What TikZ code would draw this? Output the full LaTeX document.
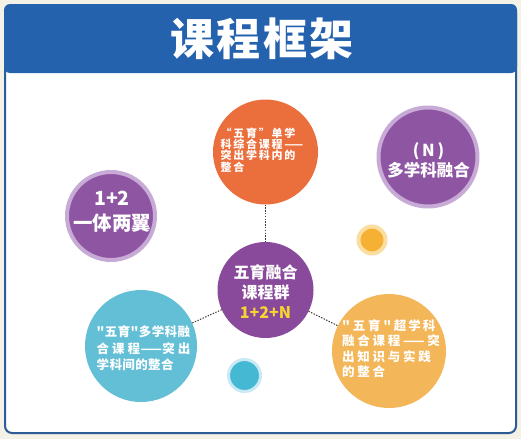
\documentclass[tikz,border=0pt]{standalone}
\usepackage{fontspec}
\newfontfamily\cjk{Noto Sans CJK SC}
\definecolor{bgbeige}{HTML}{F4F1E6}
\definecolor{headblue}{HTML}{2562AE}
\definecolor{framecol}{HTML}{2C5B96}
\definecolor{orangetop}{HTML}{EA6F3C}
\definecolor{hubpurple}{HTML}{8A4A9B}
\definecolor{sidepurple}{HTML}{8E55A2}
\definecolor{ringpurple}{HTML}{C8AAD6}
\definecolor{tealc}{HTML}{62BFD6}
\definecolor{orangebr}{HTML}{F3B75A}
\definecolor{smallorange}{HTML}{F6B033}
\definecolor{haloorange}{HTML}{FBDDA0}
\definecolor{smallteal}{HTML}{45B8D3}
\definecolor{haloteal}{HTML}{C9EAF4}
\definecolor{yellowtext}{HTML}{F7D431}
\definecolor{connc}{HTML}{3A3A3A}
\newcommand\fz[3]{\fontsize{#1}{#2}\selectfont\addfontfeature{LetterSpace=#3}}
\begin{document}
\begin{tikzpicture}[x=1pt,y=-1pt,
  ball/.style={circle, inner sep=0pt, outer sep=0pt, minimum size=#1},
  conn/.style={draw=connc, line width=1pt, dash pattern=on 1.4pt off 1.4pt},
  lbl/.style={text=white, inner sep=0pt, align=left}]
\useasboundingbox (0,0) rectangle (521,439);
\fill[bgbeige] (0,0) rectangle (521,439);
\draw[framecol, line width=2pt, fill=white, rounded corners=7pt] (5,6) rectangle (516,433);
\fill[headblue, rounded corners=6pt] (4,4) rectangle (517,73);
\node[text=white, inner sep=0pt, font=\cjk\bfseries\fz{44}{50}{6}] (title) at (262,39) {课程框架};
% circles
\node[ball=105, fill=orangetop] (top) at (265.5,152) {};
\node[ball=96, fill=hubpurple] (hub) at (265.5,290) {};
\node[ball=88, fill=sidepurple, draw=ringpurple, line width=4pt] (left) at (111,216) {};
\node[ball=99, fill=sidepurple, draw=ringpurple, line width=4pt] (right) at (428,157) {};
\node[ball=112, fill=tealc] (teal) at (141,346) {};
\node[ball=114, fill=orangebr] (br) at (389,351) {};
\node[ball=27, fill=smallorange, draw=haloorange, line width=4pt] (dotor) at (372,240) {};
\node[ball=32, fill=smallteal, draw=haloteal, line width=3pt] (dottl) at (244.5,375.5) {};
% connectors
\draw[conn] (top) -- (hub);
\draw[conn] (hub) -- (teal);
\draw[conn] (hub) -- (br);
% texts
\node[lbl, font=\cjk\bfseries\fz{11}{11.3}{16}] (ttop) at (262,150)
  {“五育”单学\\科综合课程——\\突出学科内的\\整合};
\node[lbl, align=center, font=\cjk\bfseries\fz{16}{20}{0}] (thub) at (265.5,292)
  {五育融合\\课程群\\\textcolor{yellowtext}{1+2+N}};
\node[lbl, align=center, font=\cjk\bfseries\fz{19.5}{25}{0}] (tleft) at (112,212)
  {1+2\\一体两翼};
\node[lbl, align=center, font=\cjk\bfseries\fz{16.5}{20}{0}] (tright) at (428.5,160)
  {(\,N\,)\\多学科融合};
\node[lbl, font=\cjk\bfseries\fz{12.5}{16.5}{3}] (tteal) at (143.5,348.5)
  {"五育"多学科融\\合\hspace{3pt}课\hspace{3pt}程——突\hspace{3pt}出\\学科间的整合};
\node[lbl, font=\cjk\bfseries\fz{12.5}{15.5}{22}] (tbr) at (391,348.5)
  {"五育"超\hspace{2pt}学\hspace{2pt}科\\融合课程——突\\出知识与实践\\的整合};
\end{tikzpicture}
\end{document}
